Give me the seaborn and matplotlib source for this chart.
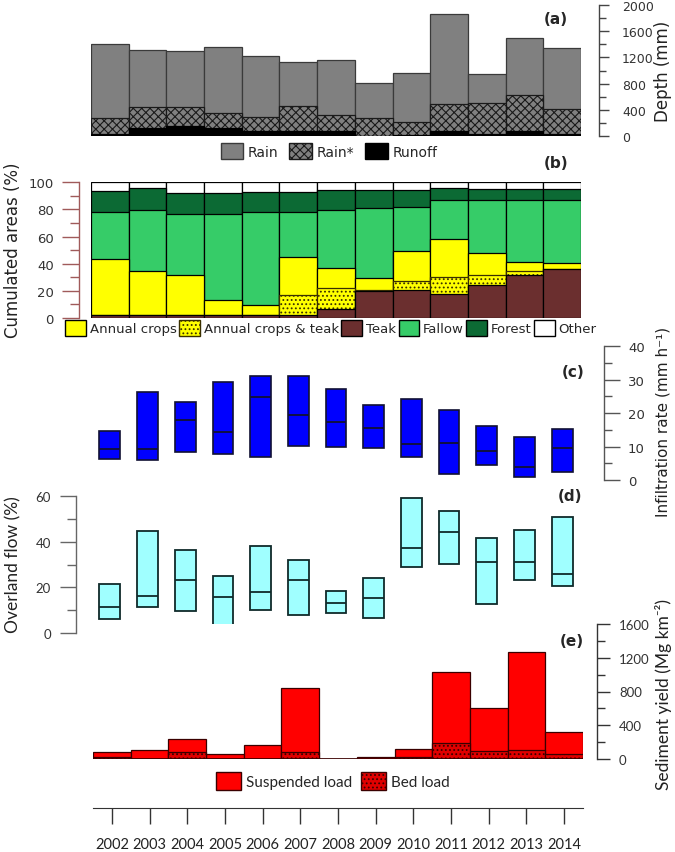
# Five stacked panels sharing one year axis (2002-2014)

import matplotlib
matplotlib.use("Agg")
import matplotlib.patches as mpatches
import matplotlib.pyplot as plt
from matplotlib.ticker import MultipleLocator
import numpy as np
import seaborn as sns

years = [str(y) for y in range(2002, 2015)]

# (a) depths, mm
rain = [1405, 1308, 1293, 1359, 1217, 1125, 1156, 814, 957, 1867, 951, 1501, 1348]
rain_star = [275, 438, 438, 347, 285, 453, 321, 275, 214, 484, 504, 631, 408]
runoff = [30, 122, 153, 122, 76, 72, 72, 5, 15, 81, 30, 76, 30]

# (b) land use, % of catchment (bottom to top)
teak = [2.4, 2.4, 2.4, 2.4, 2.4, 2.4, 6.4, 20.1, 20.9, 17.7, 24.3, 31.7, 36.1]
crops_teak = [0, 0, 0, 0, 0, 14.5, 15.7, 0.8, 6.1, 12.3, 7.4, 3.2, 0]
crops = [41.1, 32.0, 29.5, 10.6, 6.9, 28.3, 15.0, 8.8, 22.6, 28.0, 16.4, 6.1, 4.2]
fallow = [34.4, 45.0, 44.5, 63.9, 69.0, 33.1, 42.3, 51.6, 32.4, 28.7, 38.6, 45.7, 46.4]
forest = [15.7, 16.2, 15.5, 15.0, 14.3, 14.3, 15.2, 12.8, 12.1, 8.9, 8.3, 8.3, 8.3]

# (c) infiltration rate, mm/h
infil_min = [6.4, 5.9, 8.5, 7.9, 7.0, 10.3, 10.0, 9.5, 6.8, 1.8, 4.6, 1.0, 2.5]
infil_med = [9.2, 9.3, 18.1, 14.4, 24.8, 19.4, 17.5, 15.7, 10.8, 11.0, 8.7, 4.0, 9.6]
infil_max = [14.7, 26.4, 23.4, 29.2, 31.1, 31.1, 27.2, 22.5, 24.3, 20.9, 16.2, 12.8, 15.4]

# (d) overland flow, %
flow_min = [6.3, 11.4, 9.5, 3.5, 10.0, 7.9, 8.6, 6.6, 29.0, 30.2, 12.6, 23.4, 20.5]
flow_med = [11.4, 16.4, 23.3, 15.7, 17.9, 23.3, 13.0, 15.4, 37.3, 44.5, 31.0, 31.0, 26.0]
flow_max = [21.5, 44.6, 36.6, 25.2, 38.1, 32.0, 18.6, 24.1, 59.3, 53.6, 41.7, 45.3, 50.9]

# (e) sediment yield, Mg/km2
suspended = [80, 111, 235, 56, 171, 843, 5, 20, 119, 1033, 608, 1271, 318]
bed = [20, 3, 80, 3, 3, 80, 0, 3, 20, 187, 95, 111, 64]

sns.set_style("white")
plt.rcParams["font.family"] = ["DejaVu Sans"]
plt.rcParams["hatch.linewidth"] = 0.8

W, H = 675, 853
fig = plt.figure(figsize=(W / 100, H / 100), dpi=100)


def box(left, top, right, bottom):
    # pixel box (from top-left) -> figure fraction
    return [left / W, 1 - bottom / H, (right - left) / W, (bottom - top) / H]


def px(p):
    return p * 0.72


def clean(ax):
    for s in ax.spines.values():
        s.set_visible(False)
    ax.set_xlim(-0.5, 12.5)
    ax.tick_params(bottom=False, labelbottom=False)
    ax.set_xlabel("")
    ax.set_ylabel("")


def side_axis(ax, side, outward, major, minor, color, lsize, lens, pad, family="DejaVu Sans"):
    sp = ax.spines[side]
    sp.set_visible(True)
    sp.set_position(("outward", px(outward)))
    sp.set_color(color)
    sp.set_linewidth(1.0)
    ax.yaxis.set_ticks_position(side)
    ax.yaxis.set_major_locator(MultipleLocator(major))
    ax.yaxis.set_minor_locator(MultipleLocator(minor))
    ax.tick_params(axis="y", which="major", direction="out", length=px(lens[0]), width=1,
                   color=color, labelsize=lsize, labelcolor="#333333", pad=px(pad))
    ax.tick_params(axis="y", which="minor", direction="out", length=px(lens[1]), width=1,
                   color=color)
    for t in ax.get_yticklabels():
        t.set_family(family)


# ---- (a) rainfall / runoff
ax_a = fig.add_axes(box(91, 6, 581, 137))
sns.barplot(x=years, y=rain, color="#808080", edgecolor="#3a3a3a", linewidth=0.9,
            width=1, saturation=1, errorbar=None, ax=ax_a)
sns.barplot(x=years, y=rain_star, color="#808080", edgecolor="#1a1a1a", hatch="xxxx",
            linewidth=0.9, width=1, saturation=1, errorbar=None, ax=ax_a)
sns.barplot(x=years, y=runoff, color="black", edgecolor="black", linewidth=0.9,
            width=1, saturation=1, errorbar=None, ax=ax_a)
clean(ax_a)
ax_a.set_ylim(0, 2000)
side_axis(ax_a, "right", 18, 400, 200, "#444444", 9, (10, 7), 13)
ax_a.tick_params(axis="y", left=False, labelleft=False)

# ---- (b) land use, drawn as overlapping cumulative bars
cum_teak = np.array(teak)
cum_ct = cum_teak + np.array(crops_teak)
cum_crops = cum_ct + np.array(crops)
cum_fallow = cum_crops + np.array(fallow)
cum_forest = cum_fallow + np.array(forest)
cum_other = np.full(len(years), 100.0)

ax_b = fig.add_axes(box(91, 183.3, 581, 319))
layers = [
    (cum_other, "white", "black", None),
    (cum_forest, "#0c6a34", "black", None),
    (cum_fallow, "#36cc68", "black", None),
    (cum_crops, "#ffff00", "black", None),
    (cum_ct, "#ffff00", "#3a3000", "...."),
    (cum_teak, "#6b2f2f", "black", None),
]
for vals, fc, ec, hatch in layers:
    sns.barplot(x=years, y=vals, color=fc, edgecolor=ec, hatch=hatch, linewidth=0.9,
                width=1, saturation=1, errorbar=None, ax=ax_b)
clean(ax_b)
ax_b.set_ylim(0, 100)
side_axis(ax_b, "left", 12, 20, 10, "#a05a5a", 9.5, (17, 9), 8)

# ---- (c) infiltration rate, min-max box with median
x = np.arange(len(years))
bw = 0.55
ax_c = fig.add_axes(box(91, 347.3, 581, 481))
ax_c.bar(x, np.array(infil_max) - np.array(infil_min), bottom=infil_min, width=bw,
         color="#0000ff", edgecolor="#111133", linewidth=1.2)
ax_c.hlines(infil_med, x - bw / 2, x + bw / 2, color="#111133", linewidth=1.3)
clean(ax_c)
ax_c.set_ylim(0, 40)
side_axis(ax_c, "right", 23, 10, 5, "#555555", 9.5, (16, 8), 8)
ax_c.tick_params(axis="y", left=False, labelleft=False)

# ---- (d) overland flow
ax_d = fig.add_axes(box(91, 497.3, 581, 634))
ax_d.bar(x, np.array(flow_max) - np.array(flow_min), bottom=flow_min, width=bw,
         color="#a0ffff", edgecolor="#0f2a2a", linewidth=1.3)
ax_d.hlines(flow_med, x - bw / 2, x + bw / 2, color="#0f2a2a", linewidth=1.3)
clean(ax_d)
ax_d.set_ylim(0, 60)
side_axis(ax_d, "left", 15, 20, 10, "#666666", 9.5, (16, 9), 9, family="Lato")

# ---- (e) sediment yield
ax_e = fig.add_axes(box(93, 625, 583, 760))
sns.barplot(x=years, y=suspended, color="#ff0000", edgecolor="#3a0000", linewidth=0.9,
            width=1, saturation=1, errorbar=None, ax=ax_e)
sns.barplot(x=years, y=bed, color="#e00000", edgecolor="#3a0000", hatch="....",
            linewidth=0.9, width=1, saturation=1, errorbar=None, ax=ax_e)
clean(ax_e)
ax_e.set_ylim(0, 1600)
side_axis(ax_e, "right", 14, 400, 200, "#333333", 9.5, (13, 8), 9, family="Lato")
ax_e.tick_params(axis="y", left=False, labelleft=False)
ax_e.axhline(0, color="#3a0000", linewidth=1.2)

# ---- shared year axis at the bottom
ax_x = fig.add_axes(box(93, 808, 583, 809))
for s in ["top", "left", "right"]:
    ax_x.spines[s].set_visible(False)
ax_x.spines["bottom"].set_color("#333333")
ax_x.set_xlim(-0.5, 12.5)
ax_x.set_xticks(x)
ax_x.set_xticklabels(years, family="Lato", fontsize=10.5, color="#222222")
ax_x.tick_params(axis="x", bottom=True, direction="out", length=px(16), width=1,
                 color="#333333", pad=px(13))
ax_x.set_yticks([])

# ---- legends
leg_kw = dict(loc="center", frameon=False, handlelength=1.6, handleheight=1.45,
              handletextpad=0.35, borderaxespad=0, borderpad=0)
fig.legend(handles=[
    mpatches.Patch(facecolor="#808080", edgecolor="#3a3a3a", label="Rain"),
    mpatches.Patch(facecolor="#808080", edgecolor="#1a1a1a", hatch="xxxx", label="Rain*"),
    mpatches.Patch(facecolor="black", edgecolor="black", label="Runoff"),
], ncol=3, columnspacing=0.8, fontsize=10, bbox_to_anchor=(329 / W, 1 - 152 / H), **leg_kw)

fig.legend(handles=[
    mpatches.Patch(facecolor="#ffff00", edgecolor="black", label="Annual crops"),
    mpatches.Patch(facecolor="#ffff00", edgecolor="#3a3000", hatch="....", label="Annual crops & teak"),
    mpatches.Patch(facecolor="#6b2f2f", edgecolor="black", label="Teak"),
    mpatches.Patch(facecolor="#36cc68", edgecolor="black", label="Fallow"),
    mpatches.Patch(facecolor="#0c6a34", edgecolor="black", label="Forest"),
    mpatches.Patch(facecolor="white", edgecolor="black", label="Other"),
], ncol=6, fontsize=9.5, bbox_to_anchor=(331 / W, 1 - 329 / H),
    **{**leg_kw, "handletextpad": 0.3, "handlelength": 1.55, "handleheight": 1.5,
       "columnspacing": 0.2})

fig.legend(handles=[
    mpatches.Patch(facecolor="#ff0000", edgecolor="#3a0000", label="Suspended load"),
    mpatches.Patch(facecolor="#e00000", edgecolor="#3a0000", hatch="....", label="Bed load"),
], ncol=2, columnspacing=0.6, prop={"family": "Lato", "size": 11},
    bbox_to_anchor=(333 / W, 1 - 782 / H), **leg_kw)

# ---- panel letters and axis titles
for lab, (xp, yp) in {"(a)": (556, 20), "(b)": (556, 163), "(c)": (573, 373),
                      "(d)": (570, 497), "(e)": (572, 642)}.items():
    fig.text(xp / W, 1 - yp / H, lab, fontsize=11, fontweight="bold", ha="center", va="center")

fig.text(663 / W, 1 - 71 / H, "Depth (mm)", rotation=90, fontsize=12, ha="center", va="center", color="#222222")
fig.text(663 / W, 1 - 422 / H, "Infiltration rate (mm h\u207b\u00b9)", rotation=90, fontsize=11,
         ha="center", va="center", color="#222222")
fig.text(663 / W, 1 - 695 / H, "Sediment yield (Mg km\u207b\u00b2)", rotation=90, fontsize=12.5,
         ha="center", va="center", color="#222222", family="Lato")
fig.text(13 / W, 1 - 250 / H, "Cumulated areas (%)", rotation=90, fontsize=12,
         ha="center", va="center", color="#222222")
fig.text(13 / W, 1 - 565 / H, "Overland flow (%)", rotation=90, fontsize=12.5,
         ha="center", va="center", color="#222222", family="Lato")

fig.savefig("out.png", dpi=100)
